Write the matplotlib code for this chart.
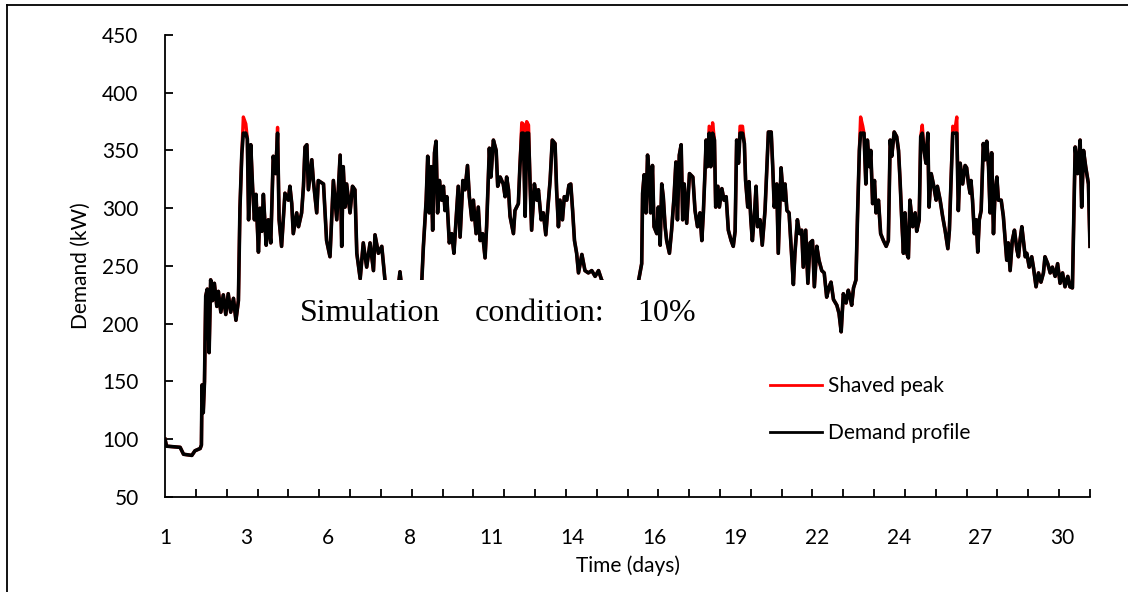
import numpy as np
import matplotlib
matplotlib.use("Agg")
import matplotlib.pyplot as plt
from matplotlib.lines import Line2D
from matplotlib.patches import Rectangle

plt.rcParams['font.family'] = ['Lato', 'DejaVu Sans']

# time (days) and demand (kW)
day = [
    1.00, 1.05, 1.49, 1.60, 1.87, 1.97, 2.14, 2.18, 2.20, 2.24, 2.28, 2.32, 2.37, 2.43, 2.48, 2.54,
    2.60, 2.68, 2.73, 2.81, 2.89, 2.97, 3.05, 3.13, 3.22, 3.30, 3.38, 3.43, 3.49, 3.54, 3.62, 3.67,
    3.71, 3.78, 3.84, 3.90, 3.95, 4.03, 4.08, 4.14, 4.19, 4.28, 4.35, 4.43, 4.51, 4.59, 4.65, 4.70,
    4.78, 4.89, 5.00, 5.05, 5.11, 5.16, 5.27, 5.33, 5.43, 5.49, 5.54, 5.60, 5.65, 5.76, 5.81, 5.92,
    5.97, 6.14, 6.24, 6.35, 6.46, 6.57, 6.68, 6.73, 6.78, 6.84, 6.89, 7.00, 7.08, 7.16, 7.22, 7.33,
    7.43, 7.54, 7.65, 7.76, 7.81, 7.92, 8.03, 8.14, 8.25, 8.40, 8.55, 8.62, 8.68, 8.85, 9.00, 9.15,
    9.28, 9.33, 9.38, 9.47, 9.52, 9.57, 9.63, 9.68, 9.74, 9.79, 9.84, 9.90, 9.97, 10.03, 10.08, 10.14,
    10.22, 10.30, 10.37, 10.46, 10.51, 10.57, 10.66, 10.73, 10.81, 10.87, 10.95, 11.00, 11.09, 11.16,
    11.22, 11.30, 11.38, 11.43, 11.52, 11.57, 11.65, 11.74, 11.79, 11.87, 11.97, 12.03, 12.08, 12.14,
    12.19, 12.30, 12.35, 12.46, 12.51, 12.57, 12.62, 12.68, 12.73, 12.79, 12.84, 12.89, 12.98, 13.06,
    13.11, 13.20, 13.27, 13.35, 13.41, 13.49, 13.56, 13.65, 13.70, 13.76, 13.81, 13.89, 13.95, 14.03,
    14.10, 14.16, 14.22, 14.28, 14.35, 14.41, 14.52, 14.62, 14.73, 14.84, 14.95, 15.06, 15.16, 15.30,
    15.45, 15.60, 15.75, 15.90, 16.05, 16.20, 16.35, 16.46, 16.49, 16.54, 16.60, 16.65, 16.71, 16.75,
    16.81, 16.86, 16.95, 17.00, 17.06, 17.11, 17.16, 17.22, 17.27, 17.36, 17.43, 17.51, 17.57, 17.62,
    17.68, 17.74, 17.79, 17.84, 17.92, 18.01, 18.12, 18.19, 18.27, 18.35, 18.41, 18.46, 18.52, 18.55,
    18.59, 18.65, 18.70, 18.76, 18.82, 18.86, 18.93, 18.98, 19.06, 19.13, 19.20, 19.27, 19.36, 19.43,
    19.49, 19.54, 19.60, 19.65, 19.73, 19.79, 19.83, 19.90, 19.94, 20.00, 20.05, 20.12, 20.17, 20.22,
    20.30, 20.37, 20.46, 20.52, 20.57, 20.66, 20.71, 20.76, 20.84, 20.89, 20.98, 21.06, 21.11, 21.17,
    21.24, 21.30, 21.38, 21.43, 21.51, 21.58, 21.65, 21.70, 21.78, 21.85, 21.92, 22.00, 22.06, 22.14,
    22.21, 22.30, 22.38, 22.46, 22.54, 22.60, 22.68, 22.79, 22.86, 22.93, 23.00, 23.09, 23.16, 23.22,
    23.27, 23.33, 23.41, 23.46, 23.52, 23.56, 23.63, 23.67, 23.73, 23.78, 23.85, 23.89, 23.95, 24.01,
    24.06, 24.14, 24.21, 24.30, 24.39, 24.46, 24.52, 24.57, 24.65, 24.73, 24.79, 24.84, 24.89, 24.95,
    25.00, 25.06, 25.11, 25.16, 25.25, 25.33, 25.38, 25.46, 25.51, 25.56, 25.62, 25.68, 25.74, 25.78,
    25.85, 25.92, 26.01, 26.05, 26.14, 26.22, 26.30, 26.39, 26.44, 26.49, 26.55, 26.62, 26.68, 26.73,
    26.79, 26.87, 26.95, 27.00, 27.06, 27.11, 27.14, 27.19, 27.25, 27.31, 27.36, 27.41, 27.47, 27.54,
    27.60, 27.65, 27.71, 27.76, 27.81, 27.87, 27.92, 27.98, 28.03, 28.12, 28.19, 28.25, 28.30, 28.35,
    28.41, 28.48, 28.55, 28.63, 28.68, 28.73, 28.79, 28.84, 28.90, 28.95, 29.03, 29.11, 29.17, 29.25,
    29.33, 29.41, 29.49, 29.54, 29.63, 29.71, 29.78, 29.87, 29.95, 30.03, 30.11, 30.19, 30.28, 30.35,
    30.43, 30.52, 30.60, 30.68, 30.73, 30.79, 30.86, 30.95, 31.00,
]
demand_kw = [
    100, 94, 93, 87, 86, 90, 92, 95, 147, 123, 150, 224, 230, 175, 238, 220,
    235, 215, 228, 210, 225, 208, 226, 210, 222, 203, 220, 300, 347, 365, 365, 360,
    290, 355, 318, 290, 312, 262, 300, 280, 312, 268, 290, 270, 345, 330, 365, 290,
    267, 313, 307, 319, 304, 278, 296, 284, 296, 319, 353, 355, 316, 342, 324, 296,
    324, 321, 272, 258, 324, 290, 346, 267, 336, 301, 321, 296, 319, 316, 261, 239,
    270, 249, 270, 246, 277, 261, 267, 236, 230, 234, 228, 245, 230, 226, 232, 228,
    234, 238, 267, 307, 345, 296, 336, 281, 348, 358, 296, 324, 307, 319, 298, 310,
    270, 278, 261, 298, 319, 275, 324, 316, 337, 310, 290, 307, 278, 301,
    272, 278, 257, 284, 352, 327, 359, 350, 319, 327, 321, 310, 327, 316,
    293, 278, 298, 304, 336, 365, 365, 293, 365, 365, 321, 281, 321, 307,
    316, 290, 296, 277, 298, 324, 359, 356, 316, 284, 307, 290, 310, 307,
    320, 321, 298, 272, 261, 244, 260, 246, 244, 246, 241, 246, 238, 232,
    228, 234, 226, 231, 227, 233, 236, 252, 313, 329, 296, 346, 327, 296,
    337, 284, 278, 301, 268, 321, 310, 284, 272, 261, 281, 310, 340, 290,
    346, 355, 290, 321, 287, 330, 327, 298, 284, 296, 272, 296, 336, 359,
    336, 365, 336, 365, 359, 301, 319, 301, 317, 307, 310, 281, 272, 267,
    280, 359, 339, 365, 365, 356, 324, 301, 323, 290, 272, 296, 319, 284,
    290, 268, 298, 336, 366, 366, 336, 301, 321, 261, 335, 307, 321, 298,
    296, 270, 234, 261, 290, 278, 281, 249, 281, 235, 270, 272, 232, 267,
    255, 246, 244, 223, 232, 236, 221, 216, 209, 193, 226, 218, 229, 223,
    216, 231, 238, 293, 350, 365, 365, 365, 321, 359, 336, 350, 304, 324,
    296, 307, 278, 272, 267, 272, 359, 345, 366, 362, 350, 324, 293, 261,
    296, 261, 257, 307, 284, 296, 280, 290, 362, 365, 350, 339, 365, 301,
    330, 321, 307, 319, 307, 293, 281, 265, 281, 321, 365, 365, 365, 298,
    339, 321, 337, 335, 321, 313, 324, 307, 278, 290, 262, 290, 298, 356,
    342, 358, 336, 296, 348, 278, 313, 327, 307, 307, 293, 272, 255, 270,
    246, 272, 281, 264, 258, 272, 284, 272, 258, 261, 249, 258, 248, 232,
    244, 236, 244, 258, 252, 244, 249, 241, 252, 235, 244, 232, 241, 232,
    231, 353, 330, 359, 301, 350, 336, 321, 267,
]

# unshaved peak values (red) where they rise above the demand profile
peak_day = [3.54, 3.62, 4.65, 12.57, 12.62, 12.73, 12.79, 18.65, 18.76,
            19.65, 19.73, 23.56, 23.63, 25.56, 26.55, 26.62, 26.68]
peak_kw = [379, 373, 370, 374, 373, 375, 372, 371, 374,
           371, 371, 379, 371, 372, 371, 368, 379]

tick_labels = ['1', '3', '6', '8', '11', '14', '16', '19', '22', '24', '27', '30']
label_pos = [1.0, 3.645, 6.29, 8.935, 11.58, 14.225, 16.87, 19.515, 22.16, 24.805, 27.45, 30.095]

peaks = dict(zip(peak_day, peak_kw))
original_kw = [peaks.get(d, v) for d, v in zip(day, demand_kw)]

fig = plt.figure(figsize=(11.28, 5.92), dpi=100)
ax = fig.add_axes([0.1463, 0.1605, 0.82, 0.7804])

ax.plot(day, original_kw, color='#ff0000', lw=2.4, label='Shaved peak', zorder=2)
ax.plot(day, demand_kw, color='black', lw=2.6, label='Demand profile', zorder=2.1)

ax.set_xlim(1, 31)
ax.set_ylim(50, 450)

for s in ['top', 'right']:
    ax.spines[s].set_visible(False)
for s in ['left', 'bottom']:
    ax.spines[s].set_linewidth(1.3)

ax.set_yticks(range(50, 451, 50))
ax.tick_params(axis='y', direction='in', length=6, width=1.3, pad=19, labelsize=15)
ax.set_xticks(label_pos)
ax.set_xticklabels(tick_labels)
ax.set_xticks(range(1, 32), minor=True)
ax.tick_params(axis='x', which='major', length=0, pad=22, labelsize=15)
ax.tick_params(axis='x', which='minor', direction='in', length=6, width=1.3)

ax.set_xlabel('Time (days)', fontsize=15, labelpad=6)
ax.set_ylabel('Demand (kW)', fontsize=15, labelpad=8)

# white text box that hides the weekend dips
ax.add_patch(Rectangle((0.135, 0.33), 0.465, 0.14, transform=ax.transAxes,
                       facecolor='white', edgecolor='none', zorder=3))
for x, word in zip([0.146, 0.335, 0.510], ['Simulation', 'condition:', '10%']):
    ax.text(x, 0.38, word, transform=ax.transAxes, family='Liberation Serif',
            fontsize=23, va='baseline', ha='left', zorder=4)

leg = ax.legend(loc='upper left', bbox_to_anchor=(0.654, 0.261), frameon=False,
                fontsize=15, handlelength=2.5, handletextpad=0.3, labelspacing=1.3,
                borderpad=0, borderaxespad=0)
for h in leg.get_lines():
    h.set_linewidth(2.0)

# chart border
fig.add_artist(Line2D([7 / 1128, 7 / 1128], [0, 1 - 4.5 / 592], color='black', lw=1.3))
fig.add_artist(Line2D([7 / 1128, 1], [1 - 4.5 / 592, 1 - 4.5 / 592], color='black', lw=1.3))

fig.savefig('out.png', dpi=100)
